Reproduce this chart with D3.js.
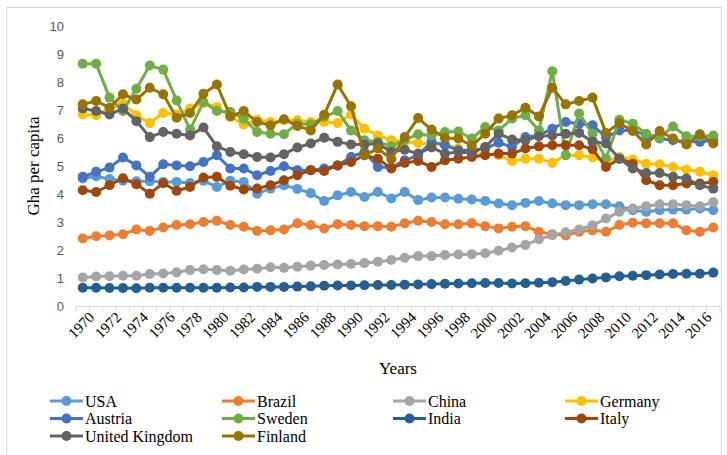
<!DOCTYPE html>
<html>
<head>
<meta charset="utf-8">
<script src="https://cdn.jsdelivr.net/npm/d3@7"></script>
<style>
  body { margin: 0; background: #fff; }
  svg { display: block; }
</style>
</head>
<body>
<svg id="chart" width="727" height="455"></svg>
<script>
// years on the category axis
const years = d3.range(1970, 2018);

// Gha per capita, 1970..2017
const usa = [4.57, 4.65, 4.55, 4.49, 4.47, 4.47, 4.45, 4.45, 4.41, 4.49, 4.27,
  4.49, 4.45, 4.03, 4.21, 4.33, 4.20, 4.05, 3.77, 3.97, 4.09,
  3.91, 4.09, 3.86, 4.09, 3.80, 3.89, 3.89, 3.85, 3.82, 3.77,
  3.68, 3.62, 3.70, 3.77, 3.68, 3.62, 3.62, 3.65, 3.65, 3.58,
  3.44, 3.38, 3.44, 3.46, 3.46, 3.50, 3.44];
const brazil = [2.43, 2.51, 2.54, 2.58, 2.75, 2.70, 2.82, 2.91, 2.94, 3.02, 3.06,
  2.91, 2.85, 2.70, 2.72, 2.75, 2.97, 2.91, 2.79, 2.94, 2.91,
  2.87, 2.87, 2.85, 2.97, 3.06, 3.02, 2.94, 2.94, 2.97, 2.87,
  2.79, 2.85, 2.87, 2.67, 2.58, 2.54, 2.67, 2.72, 2.67, 2.91,
  2.99, 2.97, 2.97, 2.97, 2.72, 2.67, 2.82];
const china = [1.04, 1.07, 1.08, 1.10, 1.10, 1.16, 1.18, 1.22, 1.30, 1.33, 1.30,
  1.28, 1.32, 1.35, 1.40, 1.38, 1.42, 1.46, 1.48, 1.50, 1.52,
  1.55, 1.60, 1.66, 1.74, 1.80, 1.80, 1.84, 1.86, 1.87, 1.90,
  1.99, 2.11, 2.20, 2.40, 2.55, 2.65, 2.75, 2.90, 3.14, 3.38,
  3.50, 3.58, 3.65, 3.65, 3.62, 3.58, 3.73];
const germany = [6.86, 6.83, 7.08, 7.24, 6.83, 6.55, 6.91, 6.86, 7.07, 7.27, 7.12,
  6.79, 6.50, 6.67, 6.59, 6.65, 6.65, 6.59, 6.59, 6.55, 6.86,
  6.35, 6.11, 5.94, 5.88, 5.84, 5.80, 5.80, 5.64, 5.45, 5.45,
  5.40, 5.20, 5.28, 5.28, 5.13, 5.40, 5.40, 5.32, 5.20, 5.34,
  5.25, 5.10, 5.08, 4.98, 4.89, 4.81, 4.69];
const austria = [4.63, 4.81, 4.96, 5.32, 5.04, 4.63, 5.08, 5.04, 5.01, 5.16, 5.40,
  4.93, 4.93, 4.69, 4.84, 5.01, 4.87, 4.87, 4.93, 5.04, 5.34,
  5.52, 4.98, 4.96, 5.22, 5.40, 5.88, 5.76, 5.58, 5.58, 5.64,
  5.85, 5.70, 6.05, 6.11, 6.35, 6.59, 6.53, 6.47, 6.05, 6.29,
  6.29, 6.11, 6.00, 5.94, 5.88, 5.88, 5.94];
const sweden = [8.67, 8.67, 7.46, 6.98, 7.78, 8.61, 8.46, 7.36, 6.32, 7.30, 6.98,
  6.95, 6.71, 6.23, 6.17, 6.15, 6.53, 6.51, 6.77, 6.98, 6.29,
  5.94, 5.88, 5.72, 5.95, 6.15, 6.11, 6.23, 6.25, 6.00, 6.41,
  6.29, 6.71, 6.83, 6.29, 8.40, 5.40, 6.89, 6.17, 5.28, 6.67,
  6.53, 6.17, 6.03, 6.43, 6.08, 6.08, 6.11];
const india = [0.67, 0.67, 0.66, 0.66, 0.65, 0.67, 0.67, 0.67, 0.67, 0.67, 0.67,
  0.68, 0.68, 0.70, 0.70, 0.70, 0.71, 0.72, 0.74, 0.75, 0.75,
  0.76, 0.77, 0.77, 0.78, 0.79, 0.80, 0.81, 0.82, 0.83, 0.84,
  0.84, 0.82, 0.83, 0.85, 0.87, 0.91, 0.96, 1.00, 1.04, 1.08,
  1.10, 1.12, 1.14, 1.16, 1.17, 1.17, 1.21];
const italy = [4.15, 4.09, 4.33, 4.58, 4.37, 4.03, 4.40, 4.13, 4.27, 4.61, 4.63,
  4.31, 4.18, 4.21, 4.33, 4.51, 4.69, 4.87, 4.84, 5.04, 5.16,
  5.40, 5.28, 4.93, 5.13, 5.20, 4.98, 5.22, 5.28, 5.34, 5.40,
  5.46, 5.46, 5.64, 5.72, 5.76, 5.76, 5.76, 5.62, 4.98, 5.28,
  5.10, 4.51, 4.33, 4.33, 4.39, 4.39, 4.45];
const uk = [7.07, 6.98, 6.86, 7.07, 6.62, 6.05, 6.23, 6.17, 6.11, 6.39, 5.72,
  5.52, 5.44, 5.34, 5.32, 5.44, 5.68, 5.82, 6.03, 5.88, 5.79,
  5.79, 5.82, 5.52, 5.60, 5.46, 5.68, 5.46, 5.52, 5.48, 5.70,
  6.17, 5.96, 5.94, 6.08, 6.11, 6.17, 6.20, 5.88, 5.82, 5.28,
  4.93, 4.77, 4.77, 4.63, 4.57, 4.33, 4.21];
const finland = [7.22, 7.34, 7.10, 7.58, 7.39, 7.81, 7.58, 6.74, 6.91, 7.60, 7.93,
  6.79, 6.98, 6.59, 6.47, 6.69, 6.45, 6.29, 6.85, 7.93, 7.15,
  5.40, 5.64, 5.27, 6.05, 6.73, 6.32, 6.02, 6.00, 5.74, 6.17,
  6.71, 6.83, 7.10, 6.79, 7.81, 7.22, 7.34, 7.46, 6.20, 6.55,
  6.27, 5.79, 6.27, 6.00, 5.79, 6.15, 5.82];

const seriesNames = ["USA", "Brazil", "China", "Germany", "Austria", "Sweden", "India", "Italy", "United Kingdom", "Finland"];
const seriesValues = [usa, brazil, china, germany, austria, sweden, india, italy, uk, finland];
const seriesColors = ["#5b9bd5", "#ed7d31", "#a5a5a5", "#ffc000", "#4472c4", "#70ad47", "#255e91", "#9e480e", "#636363", "#997300"];
const yTicks = d3.range(0, 11);

const serif = "'Liberation Serif', 'Times New Roman', serif";
const sans = "'Liberation Sans', Arial, sans-serif";

const svg = d3.select("#chart");

// outer chart border
svg.append("rect")
    .attr("x", 6.5).attr("y", 7.5)
    .attr("width", 715).attr("height", 470)
    .attr("fill", "none")
    .attr("stroke", "#d9d9d9")
    .attr("stroke-width", 1);

const x = d3.scaleBand().domain(years).range([76, 720]).paddingInner(0).paddingOuter(0);
const y = d3.scaleLinear().domain([0, 10]).range([306.5, 26.5]);
const cx = d => x(d) + x.bandwidth() / 2;

// y axis, labels only
const yAxis = svg.append("g")
    .attr("transform", "translate(68,0)")
    .call(d3.axisLeft(y).tickValues(yTicks).tickSize(0).tickPadding(4));
yAxis.select(".domain").remove();
yAxis.selectAll("text")
    .style("font-family", sans)
    .style("font-size", "13px")
    .attr("fill", "#595959");

// x axis line + boundary ticks
const xAxisG = svg.append("g").attr("transform", "translate(0,306.5)");
xAxisG.append("line")
    .attr("x1", 76).attr("x2", 720)
    .attr("stroke", "#d9d9d9").attr("stroke-width", 1);
xAxisG.selectAll(".bt")
    .data(years.concat([2018]))
    .join("line")
    .attr("class", "bt")
    .attr("x1", d => d === 2018 ? 720 : x(d))
    .attr("x2", d => d === 2018 ? 720 : x(d))
    .attr("y1", 0).attr("y2", 5)
    .attr("stroke", "#d9d9d9").attr("stroke-width", 1);

// x labels, every other year, rotated
const xAxis = svg.append("g")
    .attr("transform", "translate(0,306.5)")
    .call(d3.axisBottom(x).tickValues(years.filter(d => d % 2 === 0)).tickSize(0));
xAxis.select(".domain").remove();
xAxis.selectAll("text")
    .style("font-family", serif)
    .style("font-size", "15px")
    .attr("fill", "#000")
    .attr("text-anchor", "end")
    .attr("transform", "translate(3,2) rotate(-45)")
    .attr("dy", "0.71em")
    .attr("y", 3);

// axis titles
svg.append("text")
    .attr("x", 398).attr("y", 374)
    .attr("text-anchor", "middle")
    .style("font-family", serif)
    .style("font-size", "17px")
    .text("Years");

svg.append("text")
    .attr("transform", "translate(39,166) rotate(-90)")
    .attr("text-anchor", "middle")
    .style("font-family", serif)
    .style("font-size", "17px")
    .text("Gha per capita");

// series
const line = d3.line()
    .x((d, i) => cx(years[i]))
    .y(d => y(d));

const seriesG = svg.append("g");
seriesValues.forEach((vals, k) => {
    const g = seriesG.append("g");
    g.append("path")
        .datum(vals)
        .attr("d", line)
        .attr("fill", "none")
        .attr("stroke", seriesColors[k])
        .attr("stroke-width", 3)
        .attr("stroke-linejoin", "round");
    g.selectAll("circle")
        .data(vals)
        .join("circle")
        .attr("cx", (d, i) => cx(years[i]))
        .attr("cy", d => y(d))
        .attr("r", 5)
        .attr("fill", seriesColors[k]);
});

// legend, 4 columns
const legendX = [50, 222, 393, 565];
const legendY = [401, 418.5, 436];
const legend = svg.append("g");
seriesNames.forEach((name, k) => {
    const lx = legendX[k % 4], ly = legendY[Math.floor(k / 4)];
    const g = legend.append("g").attr("transform", `translate(${lx},${ly})`);
    g.append("line")
        .attr("x1", 0).attr("x2", 33)
        .attr("stroke", seriesColors[k]).attr("stroke-width", 3);
    g.append("circle")
        .attr("cx", 16.5).attr("r", 5)
        .attr("fill", seriesColors[k]);
    g.append("text")
        .attr("x", 35).attr("dy", "0.35em")
        .style("font-family", serif)
        .style("font-size", "16px")
        .text(name);
});
</script>
</body>
</html>
